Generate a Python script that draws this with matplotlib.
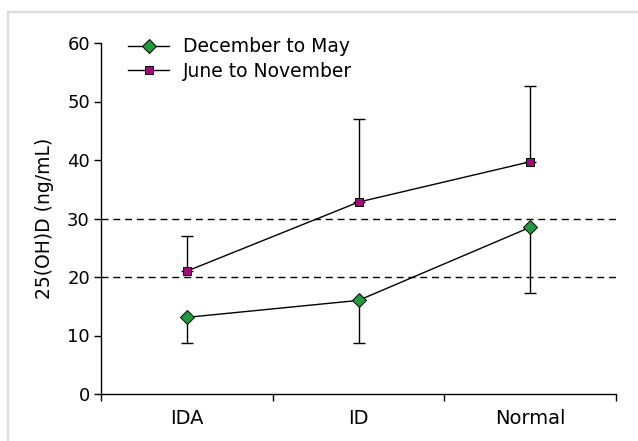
import matplotlib
matplotlib.use("Agg")
import matplotlib.pyplot as plt
from matplotlib.lines import Line2D

categories = ["IDA", "ID", "Normal"]
dec_may = [13.1, 16.0, 28.5]
dec_may_low = [8.8, 8.8, 17.3]
jun_nov = [21.0, 32.8, 39.7]
jun_nov_high = [27.0, 47.0, 52.7]
ref_lines = [20, 30]
yticks = [0, 10, 20, 30, 40, 50, 60]

plt.rcParams['font.family'] = ['DejaVu Sans']

fig = plt.figure(figsize=(6.38, 4.41), dpi=100)
ax = fig.add_axes([101/638, 1-394/441, (616-101)/638, (394-43)/441])

# light gray frame
fig.add_artist(Line2D([8/638, 8/638], [0, 1-12/441], transform=fig.transFigure, color='#dddddd', lw=1.6))
fig.add_artist(Line2D([8/638, 1], [1-12/441, 1-12/441], transform=fig.transFigure, color='#dddddd', lw=1.6))

x = list(range(len(categories)))
for yv in ref_lines:
    ax.axhline(yv, color='black', lw=1.0, ls=(0, (5, 3.5)), zorder=1)

low_err = [d - l for d, l in zip(dec_may, dec_may_low)]
high_err = [h - j for h, j in zip(jun_nov_high, jun_nov)]
ax.errorbar(x, dec_may, yerr=[low_err, [0]*3], fmt='none', ecolor='black', elinewidth=1.0, capsize=4.5, capthick=1.0, zorder=2)
ax.errorbar(x, jun_nov, yerr=[[0]*3, high_err], fmt='none', ecolor='black', elinewidth=1.0, capsize=4.5, capthick=1.0, zorder=2)

ax.plot(x, dec_may, color='black', lw=1.0, marker='D', markersize=7, markerfacecolor='#1f9a3c', markeredgecolor='black', markeredgewidth=0.7, label='December to May', zorder=3)
ax.plot(x, jun_nov, color='black', lw=1.0, marker='s', markersize=6, markerfacecolor='#a3087a', markeredgecolor='black', markeredgewidth=0.7, label='June to November', zorder=3)

ax.set_xlim(-0.5, 2.5)
ax.set_ylim(0, 60)
ax.set_yticks(yticks)
ax.set_xticks([-0.5, 0.5, 1.5, 2.5])
ax.set_xticklabels([])
ax.set_xticks(x, minor=True)
ax.set_xticklabels(categories, minor=True)
ax.tick_params(axis='x', which='major', length=5, direction='out', width=1.0)
ax.tick_params(axis='x', which='minor', length=0, pad=11, labelsize=14)
ax.tick_params(axis='y', length=5, direction='out', width=1.0, labelsize=13, pad=3)
for s in ['top', 'right']:
    ax.spines[s].set_visible(False)
for s in ['left', 'bottom']:
    ax.spines[s].set_linewidth(1.0)
ax.set_ylabel('25(OH)D (ng/mL)', fontsize=13.5, labelpad=9.5)

ax.legend(loc='upper left', bbox_to_anchor=(0.038, 1.038), frameon=False, fontsize=13.5, handlelength=2.2, handletextpad=0.75, labelspacing=0.3, borderaxespad=0)

fig.savefig('out.png', dpi=100)
